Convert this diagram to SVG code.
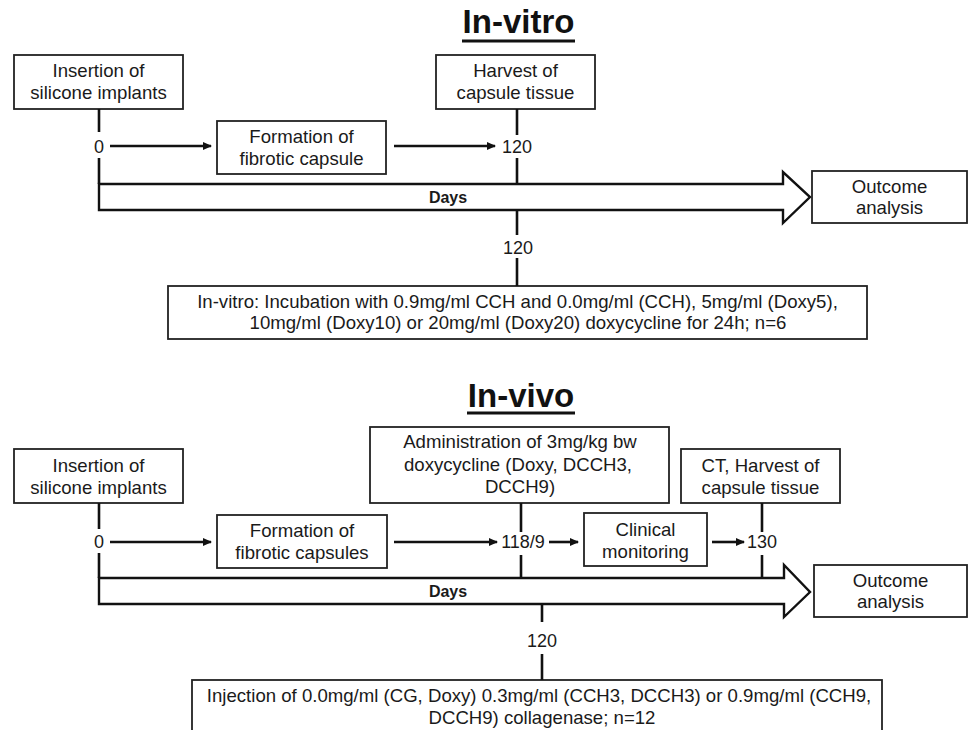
<svg xmlns="http://www.w3.org/2000/svg" width="969" height="730" viewBox="0 0 969 730">
<defs>
<style>
text{font-family:"Liberation Sans",Arial,sans-serif;font-size:18.6px;fill:#1a1a1a;text-anchor:middle}
.title{font-size:33px;font-weight:bold;fill:#111}
.days{font-size:16px;font-weight:bold}
.num{font-size:18px}
.box{fill:#fff;stroke:#222;stroke-width:1.8}
.tl{fill:#fff;stroke:#111;stroke-width:2.4;stroke-linejoin:miter}
.ln{stroke:#111;stroke-width:2.6;fill:none}
.ar{stroke:#111;stroke-width:2.6;fill:none;marker-end:url(#ah)}
.ul{stroke:#111;stroke-width:3}
</style>
<marker id="ah" markerWidth="10" markerHeight="10" refX="8" refY="5" orient="auto" markerUnits="userSpaceOnUse">
<path d="M0,1 L9,5 L0,9 Z" fill="#111"/>
</marker>
</defs>
<rect width="969" height="730" fill="#fff"/>

<!-- In-vitro -->
<g id="title-invitro">
<text class="title" x="518.5" y="33">In-vitro</text>
<line class="ul" x1="462" y1="41" x2="575" y2="41"/>
</g>
<g id="vitro-timeline">
<path class="tl" d="M99,184 H783 V172 L810,197 L783,223 V210 H99 Z"/>
<text class="days" x="448" y="203">Days</text>
</g>
<g id="vitro-insertion">
<rect class="box" x="14" y="55" width="169" height="54"/>
<text x="98.5" y="77">Insertion of</text>
<text x="98.5" y="99">silicone implants</text>
</g>
<g id="vitro-formation">
<rect class="box" x="217" y="121" width="169" height="53"/>
<text x="301.5" y="143">Formation of</text>
<text x="301.5" y="165">fibrotic capsule</text>
</g>
<g id="vitro-harvest">
<rect class="box" x="436" y="55" width="159" height="54"/>
<text x="515.5" y="77">Harvest of</text>
<text x="515.5" y="99">capsule tissue</text>
</g>
<g id="vitro-outcome">
<rect class="box" x="812" y="171" width="155" height="52"/>
<text x="889.5" y="193">Outcome</text>
<text x="889.5" y="214">analysis</text>
</g>
<g id="vitro-incubation">
<rect class="box" x="168" y="286" width="699" height="53"/>
<text x="517.5" y="308">In-vitro: Incubation with 0.9mg/ml CCH and 0.0mg/ml (CCH), 5mg/ml (Doxy5),</text>
<text x="518" y="329">10mg/ml (Doxy10) or 20mg/ml (Doxy20) doxycycline for 24h; n=6</text>
</g>
<g id="vitro-labels">
<text class="num" x="99" y="153">0</text>
<text class="num" x="517" y="153">120</text>
<text class="num" x="518" y="254">120</text>
</g>
<g id="vitro-connectors">
<line class="ln" x1="99" y1="109" x2="99" y2="132"/>
<line class="ln" x1="99" y1="158" x2="99" y2="184"/>
<line class="ar" x1="110" y1="146" x2="211" y2="146"/>
<line class="ar" x1="394" y1="146" x2="495" y2="146"/>
<line class="ln" x1="517" y1="109" x2="517" y2="135"/>
<line class="ln" x1="517" y1="158" x2="517" y2="184"/>
<line class="ln" x1="517" y1="210" x2="517" y2="235"/>
<line class="ln" x1="517" y1="258" x2="517" y2="286"/>
</g>

<!-- In-vivo -->
<g id="title-invivo">
<text class="title" x="521" y="407">In-vivo</text>
<line class="ul" x1="467" y1="413" x2="575" y2="413"/>
</g>
<g id="vivo-timeline">
<path class="tl" d="M99,578 H784 V565 L810,592 L784,617 V604 H99 Z"/>
<text class="days" x="448" y="597">Days</text>
</g>
<g id="vivo-insertion">
<rect class="box" x="14" y="449" width="169" height="54"/>
<text x="98.5" y="472">Insertion of</text>
<text x="98.5" y="494">silicone implants</text>
</g>
<g id="vivo-formation">
<rect class="box" x="217" y="515" width="170" height="53"/>
<text x="302" y="537">Formation of</text>
<text x="302" y="559">fibrotic capsules</text>
</g>
<g id="vivo-administration">
<rect class="box" x="370" y="427" width="299" height="76"/>
<text x="520" y="448">Administration of 3mg/kg bw</text>
<text x="518" y="471">doxycycline (Doxy, DCCH3,</text>
<text x="520" y="493">DCCH9)</text>
</g>
<g id="vivo-clinical">
<rect class="box" x="584" y="513" width="123" height="53"/>
<text x="645.5" y="536">Clinical</text>
<text x="645.5" y="558">monitoring</text>
</g>
<g id="vivo-ct">
<rect class="box" x="681" y="449" width="159" height="54"/>
<text x="760.5" y="472">CT, Harvest of</text>
<text x="760.5" y="494">capsule tissue</text>
</g>
<g id="vivo-outcome">
<rect class="box" x="814" y="565" width="153" height="52"/>
<text x="890.5" y="587">Outcome</text>
<text x="890.5" y="608">analysis</text>
</g>
<g id="vivo-injection">
<rect class="box" x="192" y="680" width="690" height="70"/>
<text x="539" y="702">Injection of 0.0mg/ml (CG, Doxy) 0.3mg/ml (CCH3, DCCH3) or 0.9mg/ml (CCH9,</text>
<text x="542" y="724">DCCH9) collagenase; n=12</text>
</g>
<g id="vivo-labels">
<text class="num" x="99" y="548">0</text>
<text class="num" x="523" y="548">118/9</text>
<text class="num" x="762" y="548">130</text>
<text class="num" x="542" y="647">120</text>
</g>
<g id="vivo-connectors">
<line class="ln" x1="99" y1="503" x2="99" y2="529"/>
<line class="ln" x1="99" y1="553" x2="99" y2="578"/>
<line class="ar" x1="110" y1="542" x2="211" y2="542"/>
<line class="ar" x1="394" y1="542" x2="497" y2="542"/>
<line class="ln" x1="521" y1="503" x2="521" y2="532"/>
<line class="ln" x1="521" y1="555" x2="521" y2="578"/>
<line class="ar" x1="549" y1="542" x2="578" y2="542"/>
<line class="ar" x1="712" y1="542" x2="744" y2="542"/>
<line class="ln" x1="762" y1="503" x2="762" y2="532"/>
<line class="ln" x1="762" y1="555" x2="762" y2="578"/>
<line class="ln" x1="542" y1="604" x2="542" y2="622"/>
<line class="ln" x1="542" y1="654" x2="542" y2="680"/>
</g>
</svg>
